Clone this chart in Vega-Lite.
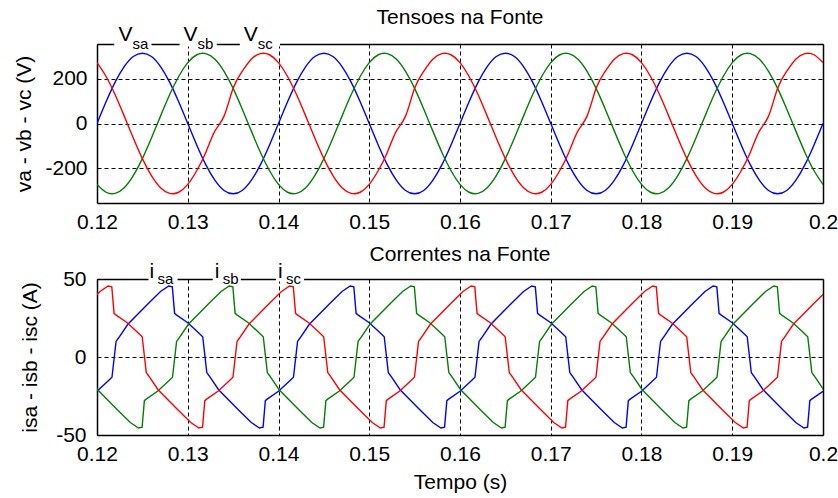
{
  "$schema": "https://vega.github.io/schema/vega-lite/v6.json",
  "padding": {"left": 13, "top": 6, "right": 0, "bottom": 1},
  "background": "white",
  "spacing": 12,
  "config": {
    "font": "Liberation Sans",
    "view": {"stroke": null},
    "axis": {
      "labelFont": "Liberation Sans", "labelFontSize": 21, "labelColor": "black",
      "titleFont": "Liberation Sans", "titleFontSize": 21, "titleFontWeight": "normal", "titleColor": "black",
      "domainColor": "black", "domainWidth": 1.5, "ticks": false,
      "gridColor": "black", "gridDash": [4, 3], "gridOpacity": 1, "gridWidth": 1
    },
    "title": {"font": "Liberation Sans", "fontSize": 21, "fontWeight": "normal", "color": "black"}
  },
  "datasets": {
    "volt": [
      {"t":0.120,"va":0,"vb":-272,"vc":272},{"t":0.121,"va":97,"vb":-307,"vc":210},{"t":0.122,"va":185,"vb":-312,"vc":128},{"t":0.123,"va":254,"vb":-287,"vc":33},{"t":0.124,"va":299,"vb":-233,"vc":-65},{"t":0.125,"va":314,"vb":-157,"vc":-157},{"t":0.126,"va":299,"vb":-65,"vc":-233},{"t":0.127,"va":254,"vb":33,"vc":-287},{"t":0.128,"va":185,"vb":128,"vc":-312},{"t":0.129,"va":97,"vb":210,"vc":-307},
      {"t":0.130,"va":0,"vb":272,"vc":-272},{"t":0.131,"va":-97,"vb":307,"vc":-210},{"t":0.132,"va":-185,"vb":312,"vc":-128},{"t":0.133,"va":-254,"vb":287,"vc":-33},{"t":0.134,"va":-299,"vb":233,"vc":33},{"t":0.135,"va":-314,"vb":157,"vc":157},{"t":0.136,"va":-299,"vb":65,"vc":233},{"t":0.137,"va":-254,"vb":-33,"vc":287},{"t":0.138,"va":-185,"vb":-128,"vc":312},{"t":0.139,"va":-97,"vb":-210,"vc":307},
      {"t":0.140,"va":0,"vb":-272,"vc":272},{"t":0.141,"va":97,"vb":-307,"vc":210},{"t":0.142,"va":185,"vb":-312,"vc":128},{"t":0.143,"va":254,"vb":-287,"vc":33},{"t":0.144,"va":299,"vb":-233,"vc":-65},{"t":0.145,"va":314,"vb":-157,"vc":-157},{"t":0.146,"va":299,"vb":-65,"vc":-233},{"t":0.147,"va":254,"vb":33,"vc":-287},{"t":0.148,"va":185,"vb":128,"vc":-312},{"t":0.149,"va":97,"vb":210,"vc":-307},
      {"t":0.150,"va":0,"vb":272,"vc":-272},{"t":0.151,"va":-97,"vb":307,"vc":-210},{"t":0.152,"va":-185,"vb":312,"vc":-128},{"t":0.153,"va":-254,"vb":287,"vc":-33},{"t":0.154,"va":-299,"vb":233,"vc":33},{"t":0.155,"va":-314,"vb":157,"vc":157},{"t":0.156,"va":-299,"vb":65,"vc":233},{"t":0.157,"va":-254,"vb":-33,"vc":287},{"t":0.158,"va":-185,"vb":-128,"vc":312},{"t":0.159,"va":-97,"vb":-210,"vc":307},
      {"t":0.160,"va":0,"vb":-272,"vc":272},{"t":0.161,"va":97,"vb":-307,"vc":210},{"t":0.162,"va":185,"vb":-312,"vc":128},{"t":0.163,"va":254,"vb":-287,"vc":33},{"t":0.164,"va":299,"vb":-233,"vc":-65},{"t":0.165,"va":314,"vb":-157,"vc":-157},{"t":0.166,"va":299,"vb":-65,"vc":-233},{"t":0.167,"va":254,"vb":33,"vc":-287},{"t":0.168,"va":185,"vb":128,"vc":-312},{"t":0.169,"va":97,"vb":210,"vc":-307},
      {"t":0.170,"va":0,"vb":272,"vc":-272},{"t":0.171,"va":-97,"vb":307,"vc":-210},{"t":0.172,"va":-185,"vb":312,"vc":-128},{"t":0.173,"va":-254,"vb":287,"vc":-33},{"t":0.174,"va":-299,"vb":233,"vc":33},{"t":0.175,"va":-314,"vb":157,"vc":157},{"t":0.176,"va":-299,"vb":65,"vc":233},{"t":0.177,"va":-254,"vb":-33,"vc":287},{"t":0.178,"va":-185,"vb":-128,"vc":312},{"t":0.179,"va":-97,"vb":-210,"vc":307},
      {"t":0.180,"va":0,"vb":-272,"vc":272},{"t":0.181,"va":97,"vb":-307,"vc":210},{"t":0.182,"va":185,"vb":-312,"vc":128},{"t":0.183,"va":254,"vb":-287,"vc":33},{"t":0.184,"va":299,"vb":-233,"vc":-65},{"t":0.185,"va":314,"vb":-157,"vc":-157},{"t":0.186,"va":299,"vb":-65,"vc":-233},{"t":0.187,"va":254,"vb":33,"vc":-287},{"t":0.188,"va":185,"vb":128,"vc":-312},{"t":0.189,"va":97,"vb":210,"vc":-307},
      {"t":0.190,"va":0,"vb":272,"vc":-272},{"t":0.191,"va":-97,"vb":307,"vc":-210},{"t":0.192,"va":-185,"vb":312,"vc":-128},{"t":0.193,"va":-254,"vb":287,"vc":-33},{"t":0.194,"va":-299,"vb":233,"vc":33},{"t":0.195,"va":-314,"vb":157,"vc":157},{"t":0.196,"va":-299,"vb":65,"vc":233},{"t":0.197,"va":-254,"vb":-33,"vc":287},{"t":0.198,"va":-185,"vb":-128,"vc":312},{"t":0.199,"va":-97,"vb":-210,"vc":307},
      {"t":0.200,"va":0,"vb":-272,"vc":272}
    ],
    "curr": [
      {"s":"isa","t":0.12,"v":-22},{"s":"isa","t":0.1211,"v":-16},{"s":"isa","t":0.12165,"v":-13},{"s":"isa","t":0.1221,"v":10},{"s":"isa","t":0.12235,"v":12},{"s":"isa","t":0.1234,"v":21},{"s":"isa","t":0.1256,"v":34},{"s":"isa","t":0.127,"v":42},{"s":"isa","t":0.1279,"v":45.5},{"s":"isa","t":0.1283,"v":45},{"s":"isa","t":0.12855,"v":28},{"s":"isa","t":0.12875,"v":27},
      {"s":"isa","t":0.13,"v":22},{"s":"isa","t":0.1311,"v":16},{"s":"isa","t":0.13165,"v":13},{"s":"isa","t":0.1321,"v":-10},{"s":"isa","t":0.13235,"v":-12},{"s":"isa","t":0.1334,"v":-21},{"s":"isa","t":0.1356,"v":-34},{"s":"isa","t":0.137,"v":-42},{"s":"isa","t":0.1379,"v":-45.5},{"s":"isa","t":0.1383,"v":-45},{"s":"isa","t":0.13855,"v":-28},{"s":"isa","t":0.13875,"v":-27},
      {"s":"isa","t":0.14,"v":-22},{"s":"isa","t":0.1411,"v":-16},{"s":"isa","t":0.14165,"v":-13},{"s":"isa","t":0.1421,"v":10},{"s":"isa","t":0.14235,"v":12},{"s":"isa","t":0.1434,"v":21},{"s":"isa","t":0.1456,"v":34},{"s":"isa","t":0.147,"v":42},{"s":"isa","t":0.1479,"v":45.5},{"s":"isa","t":0.1483,"v":45},{"s":"isa","t":0.14855,"v":28},{"s":"isa","t":0.14875,"v":27},
      {"s":"isa","t":0.15,"v":22},{"s":"isa","t":0.1511,"v":16},{"s":"isa","t":0.15165,"v":13},{"s":"isa","t":0.1521,"v":-10},{"s":"isa","t":0.15235,"v":-12},{"s":"isa","t":0.1534,"v":-21},{"s":"isa","t":0.1556,"v":-34},{"s":"isa","t":0.157,"v":-42},{"s":"isa","t":0.1579,"v":-45.5},{"s":"isa","t":0.1583,"v":-45},{"s":"isa","t":0.15855,"v":-28},{"s":"isa","t":0.15875,"v":-27},
      {"s":"isa","t":0.16,"v":-22},{"s":"isa","t":0.1611,"v":-16},{"s":"isa","t":0.16165,"v":-13},{"s":"isa","t":0.1621,"v":10},{"s":"isa","t":0.16235,"v":12},{"s":"isa","t":0.1634,"v":21},{"s":"isa","t":0.1656,"v":34},{"s":"isa","t":0.167,"v":42},{"s":"isa","t":0.1679,"v":45.5},{"s":"isa","t":0.1683,"v":45},{"s":"isa","t":0.16855,"v":28},{"s":"isa","t":0.16875,"v":27},
      {"s":"isa","t":0.17,"v":22},{"s":"isa","t":0.1711,"v":16},{"s":"isa","t":0.17165,"v":13},{"s":"isa","t":0.1721,"v":-10},{"s":"isa","t":0.17235,"v":-12},{"s":"isa","t":0.1734,"v":-21},{"s":"isa","t":0.1756,"v":-34},{"s":"isa","t":0.177,"v":-42},{"s":"isa","t":0.1779,"v":-45.5},{"s":"isa","t":0.1783,"v":-45},{"s":"isa","t":0.17855,"v":-28},{"s":"isa","t":0.17875,"v":-27},
      {"s":"isa","t":0.18,"v":-22},{"s":"isa","t":0.1811,"v":-16},{"s":"isa","t":0.18165,"v":-13},{"s":"isa","t":0.1821,"v":10},{"s":"isa","t":0.18235,"v":12},{"s":"isa","t":0.1834,"v":21},{"s":"isa","t":0.1856,"v":34},{"s":"isa","t":0.187,"v":42},{"s":"isa","t":0.1879,"v":45.5},{"s":"isa","t":0.1883,"v":45},{"s":"isa","t":0.18855,"v":28},{"s":"isa","t":0.18875,"v":27},
      {"s":"isa","t":0.19,"v":22},{"s":"isa","t":0.1911,"v":16},{"s":"isa","t":0.19165,"v":13},{"s":"isa","t":0.1921,"v":-10},{"s":"isa","t":0.19235,"v":-12},{"s":"isa","t":0.1934,"v":-21},{"s":"isa","t":0.1956,"v":-34},{"s":"isa","t":0.197,"v":-42},{"s":"isa","t":0.1979,"v":-45.5},{"s":"isa","t":0.1983,"v":-45},{"s":"isa","t":0.19855,"v":-28},{"s":"isa","t":0.19875,"v":-27},
      {"s":"isa","t":0.2,"v":-22},

      {"s":"isb","t":0.11877,"v":-10},{"s":"isb","t":0.11902,"v":-12},{"s":"isb","t":0.12007,"v":-21},{"s":"isb","t":0.12227,"v":-34},{"s":"isb","t":0.12367,"v":-42},{"s":"isb","t":0.12457,"v":-45.5},{"s":"isb","t":0.12497,"v":-45},{"s":"isb","t":0.12522,"v":-28},{"s":"isb","t":0.12542,"v":-27},
      {"s":"isb","t":0.12667,"v":-22},{"s":"isb","t":0.12777,"v":-16},{"s":"isb","t":0.12832,"v":-13},{"s":"isb","t":0.12877,"v":10},{"s":"isb","t":0.12902,"v":12},{"s":"isb","t":0.13007,"v":21},{"s":"isb","t":0.13227,"v":34},{"s":"isb","t":0.13367,"v":42},{"s":"isb","t":0.13457,"v":45.5},{"s":"isb","t":0.13497,"v":45},{"s":"isb","t":0.13522,"v":28},{"s":"isb","t":0.13542,"v":27},
      {"s":"isb","t":0.13667,"v":22},{"s":"isb","t":0.13777,"v":16},{"s":"isb","t":0.13832,"v":13},{"s":"isb","t":0.13877,"v":-10},{"s":"isb","t":0.13902,"v":-12},{"s":"isb","t":0.14007,"v":-21},{"s":"isb","t":0.14227,"v":-34},{"s":"isb","t":0.14367,"v":-42},{"s":"isb","t":0.14457,"v":-45.5},{"s":"isb","t":0.14497,"v":-45},{"s":"isb","t":0.14522,"v":-28},{"s":"isb","t":0.14542,"v":-27},
      {"s":"isb","t":0.14667,"v":-22},{"s":"isb","t":0.14777,"v":-16},{"s":"isb","t":0.14832,"v":-13},{"s":"isb","t":0.14877,"v":10},{"s":"isb","t":0.14902,"v":12},{"s":"isb","t":0.15007,"v":21},{"s":"isb","t":0.15227,"v":34},{"s":"isb","t":0.15367,"v":42},{"s":"isb","t":0.15457,"v":45.5},{"s":"isb","t":0.15497,"v":45},{"s":"isb","t":0.15522,"v":28},{"s":"isb","t":0.15542,"v":27},
      {"s":"isb","t":0.15667,"v":22},{"s":"isb","t":0.15777,"v":16},{"s":"isb","t":0.15832,"v":13},{"s":"isb","t":0.15877,"v":-10},{"s":"isb","t":0.15902,"v":-12},{"s":"isb","t":0.16007,"v":-21},{"s":"isb","t":0.16227,"v":-34},{"s":"isb","t":0.16367,"v":-42},{"s":"isb","t":0.16457,"v":-45.5},{"s":"isb","t":0.16497,"v":-45},{"s":"isb","t":0.16522,"v":-28},{"s":"isb","t":0.16542,"v":-27},
      {"s":"isb","t":0.16667,"v":-22},{"s":"isb","t":0.16777,"v":-16},{"s":"isb","t":0.16832,"v":-13},{"s":"isb","t":0.16877,"v":10},{"s":"isb","t":0.16902,"v":12},{"s":"isb","t":0.17007,"v":21},{"s":"isb","t":0.17227,"v":34},{"s":"isb","t":0.17367,"v":42},{"s":"isb","t":0.17457,"v":45.5},{"s":"isb","t":0.17497,"v":45},{"s":"isb","t":0.17522,"v":28},{"s":"isb","t":0.17542,"v":27},
      {"s":"isb","t":0.17667,"v":22},{"s":"isb","t":0.17777,"v":16},{"s":"isb","t":0.17832,"v":13},{"s":"isb","t":0.17877,"v":-10},{"s":"isb","t":0.17902,"v":-12},{"s":"isb","t":0.18007,"v":-21},{"s":"isb","t":0.18227,"v":-34},{"s":"isb","t":0.18367,"v":-42},{"s":"isb","t":0.18457,"v":-45.5},{"s":"isb","t":0.18497,"v":-45},{"s":"isb","t":0.18522,"v":-28},{"s":"isb","t":0.18542,"v":-27},
      {"s":"isb","t":0.18667,"v":-22},{"s":"isb","t":0.18777,"v":-16},{"s":"isb","t":0.18832,"v":-13},{"s":"isb","t":0.18877,"v":10},{"s":"isb","t":0.18902,"v":12},{"s":"isb","t":0.19007,"v":21},{"s":"isb","t":0.19227,"v":34},{"s":"isb","t":0.19367,"v":42},{"s":"isb","t":0.19457,"v":45.5},{"s":"isb","t":0.19497,"v":45},{"s":"isb","t":0.19522,"v":28},{"s":"isb","t":0.19542,"v":27},
      {"s":"isb","t":0.19667,"v":22},{"s":"isb","t":0.19777,"v":16},{"s":"isb","t":0.19832,"v":13},{"s":"isb","t":0.19877,"v":-10},{"s":"isb","t":0.19902,"v":-12},{"s":"isb","t":0.20007,"v":-21},

      {"s":"isc","t":0.11893,"v":34},{"s":"isc","t":0.12033,"v":42},{"s":"isc","t":0.12123,"v":45.5},{"s":"isc","t":0.12163,"v":45},{"s":"isc","t":0.12188,"v":28},{"s":"isc","t":0.12208,"v":27},
      {"s":"isc","t":0.12333,"v":22},{"s":"isc","t":0.12443,"v":16},{"s":"isc","t":0.12498,"v":13},{"s":"isc","t":0.12543,"v":-10},{"s":"isc","t":0.12568,"v":-12},{"s":"isc","t":0.12673,"v":-21},{"s":"isc","t":0.12893,"v":-34},{"s":"isc","t":0.13033,"v":-42},{"s":"isc","t":0.13123,"v":-45.5},{"s":"isc","t":0.13163,"v":-45},{"s":"isc","t":0.13188,"v":-28},{"s":"isc","t":0.13208,"v":-27},
      {"s":"isc","t":0.13333,"v":-22},{"s":"isc","t":0.13443,"v":-16},{"s":"isc","t":0.13498,"v":-13},{"s":"isc","t":0.13543,"v":10},{"s":"isc","t":0.13568,"v":12},{"s":"isc","t":0.13673,"v":21},{"s":"isc","t":0.13893,"v":34},{"s":"isc","t":0.14033,"v":42},{"s":"isc","t":0.14123,"v":45.5},{"s":"isc","t":0.14163,"v":45},{"s":"isc","t":0.14188,"v":28},{"s":"isc","t":0.14208,"v":27},
      {"s":"isc","t":0.14333,"v":22},{"s":"isc","t":0.14443,"v":16},{"s":"isc","t":0.14498,"v":13},{"s":"isc","t":0.14543,"v":-10},{"s":"isc","t":0.14568,"v":-12},{"s":"isc","t":0.14673,"v":-21},{"s":"isc","t":0.14893,"v":-34},{"s":"isc","t":0.15033,"v":-42},{"s":"isc","t":0.15123,"v":-45.5},{"s":"isc","t":0.15163,"v":-45},{"s":"isc","t":0.15188,"v":-28},{"s":"isc","t":0.15208,"v":-27},
      {"s":"isc","t":0.15333,"v":-22},{"s":"isc","t":0.15443,"v":-16},{"s":"isc","t":0.15498,"v":-13},{"s":"isc","t":0.15543,"v":10},{"s":"isc","t":0.15568,"v":12},{"s":"isc","t":0.15673,"v":21},{"s":"isc","t":0.15893,"v":34},{"s":"isc","t":0.16033,"v":42},{"s":"isc","t":0.16123,"v":45.5},{"s":"isc","t":0.16163,"v":45},{"s":"isc","t":0.16188,"v":28},{"s":"isc","t":0.16208,"v":27},
      {"s":"isc","t":0.16333,"v":22},{"s":"isc","t":0.16443,"v":16},{"s":"isc","t":0.16498,"v":13},{"s":"isc","t":0.16543,"v":-10},{"s":"isc","t":0.16568,"v":-12},{"s":"isc","t":0.16673,"v":-21},{"s":"isc","t":0.16893,"v":-34},{"s":"isc","t":0.17033,"v":-42},{"s":"isc","t":0.17123,"v":-45.5},{"s":"isc","t":0.17163,"v":-45},{"s":"isc","t":0.17188,"v":-28},{"s":"isc","t":0.17208,"v":-27},
      {"s":"isc","t":0.17333,"v":-22},{"s":"isc","t":0.17443,"v":-16},{"s":"isc","t":0.17498,"v":-13},{"s":"isc","t":0.17543,"v":10},{"s":"isc","t":0.17568,"v":12},{"s":"isc","t":0.17673,"v":21},{"s":"isc","t":0.17893,"v":34},{"s":"isc","t":0.18033,"v":42},{"s":"isc","t":0.18123,"v":45.5},{"s":"isc","t":0.18163,"v":45},{"s":"isc","t":0.18188,"v":28},{"s":"isc","t":0.18208,"v":27},
      {"s":"isc","t":0.18333,"v":22},{"s":"isc","t":0.18443,"v":16},{"s":"isc","t":0.18498,"v":13},{"s":"isc","t":0.18543,"v":-10},{"s":"isc","t":0.18568,"v":-12},{"s":"isc","t":0.18673,"v":-21},{"s":"isc","t":0.18893,"v":-34},{"s":"isc","t":0.19033,"v":-42},{"s":"isc","t":0.19123,"v":-45.5},{"s":"isc","t":0.19163,"v":-45},{"s":"isc","t":0.19188,"v":-28},{"s":"isc","t":0.19208,"v":-27},
      {"s":"isc","t":0.19333,"v":-22},{"s":"isc","t":0.19443,"v":-16},{"s":"isc","t":0.19498,"v":-13},{"s":"isc","t":0.19543,"v":10},{"s":"isc","t":0.19568,"v":12},{"s":"isc","t":0.19673,"v":21},{"s":"isc","t":0.19893,"v":34},{"s":"isc","t":0.20033,"v":42}
    ],
    "vlab": [
      {"t":0.12236,"t1":0.1219,"t2":0.1260,"m":"V","sub":"sa"},
      {"t":0.12954,"t1":0.1291,"t2":0.1332,"m":"V","sub":"sb"},
      {"t":0.13618,"t1":0.13574,"t2":0.14016,"m":"V","sub":"sc"}
    ],
    "ilab": [
      {"t":0.12578,"t1":0.12567,"t2":0.12888,"m":"i","sub":"sa"},
      {"t":0.13297,"t1":0.13275,"t2":0.13585,"m":"i","sub":"sb"},
      {"t":0.13994,"t1":0.13972,"t2":0.14282,"m":"i","sub":"sc"}
    ]
  },
  "vconcat": [
    {
      "title": {"text": "Tensoes na Fonte", "offset": -3.5},
      "width": 726,
      "height": 159,
      "resolve": {"axis": {"x": "independent", "y": "independent"}},
      "layer": [
        {
          "data": {"name": "volt"},
          "transform": [{"fold": ["va", "vb", "vc"], "as": ["fase", "tensao"]}],
          "mark": {"type": "line", "interpolate": "natural", "strokeWidth": 1.4, "clip": true},
          "encoding": {
            "x": {"field": "t", "type": "quantitative",
                  "scale": {"domain": [0.12, 0.2], "nice": false, "zero": false},
                  "axis": {"values": [0.12,0.13,0.14,0.15,0.16,0.17,0.18,0.19,0.2], "format": ".2~f", "title": null, "labelPadding": 8, "labelFlush": false, "labelOverlap": false}},
            "y": {"field": "tensao", "type": "quantitative",
                  "scale": {"domain": [-355, 355], "nice": false, "zero": false},
                  "axis": {"values": [-200, 0, 200], "labelExpr": "'' + datum.value", "title": "va - vb - vc (V)", "labelPadding": 10, "titlePadding": 10}},
            "color": {"field": "fase", "type": "nominal",
                      "scale": {"domain": ["va", "vb", "vc"], "range": ["#0000ff", "#008000", "#ff0000"]},
                      "legend": null}
          }
        },
        {
          "data": {"name": "vlab"},
          "layer": [
            {
              "mark": {"type": "rule", "color": "white", "strokeWidth": 5},
              "encoding": {
                "x": {"field": "t1", "type": "quantitative", "axis": {"orient": "top", "labels": false, "grid": false, "title": null, "domain": true}},
                "x2": {"field": "t2"},
                "y": {"datum": 355, "type": "quantitative", "axis": {"orient": "right", "labels": false, "grid": false, "title": null, "domain": true}}
              }
            },
            {
              "mark": {"type": "text", "align": "left", "baseline": "alphabetic", "fontSize": 21, "dy": -3, "color": "black"},
              "encoding": {
                "x": {"field": "t", "type": "quantitative", "axis": {"orient": "top", "labels": false, "grid": false, "title": null, "domain": true}},
                "y": {"datum": 355, "type": "quantitative", "axis": {"orient": "right", "labels": false, "grid": false, "title": null, "domain": true}},
                "text": {"field": "m"}
              }
            },
            {
              "mark": {"type": "text", "align": "left", "baseline": "alphabetic", "fontSize": 15, "dx": 14, "dy": 5, "color": "black"},
              "encoding": {
                "x": {"field": "t", "type": "quantitative", "axis": {"orient": "top", "labels": false, "grid": false, "title": null, "domain": true}},
                "y": {"datum": 355, "type": "quantitative", "axis": {"orient": "right", "labels": false, "grid": false, "title": null, "domain": true}},
                "text": {"field": "sub"}
              }
            }
          ]
        }
      ]
    },
    {
      "title": {"text": "Correntes na Fonte", "offset": -4},
      "width": 726,
      "height": 156,
      "resolve": {"axis": {"x": "independent", "y": "independent"}},
      "layer": [
        {
          "data": {"name": "curr"},
          "mark": {"type": "line", "strokeWidth": 1.4, "clip": true},
          "encoding": {
            "x": {"field": "t", "type": "quantitative",
                  "scale": {"domain": [0.12, 0.2], "nice": false, "zero": false},
                  "axis": {"values": [0.12,0.13,0.14,0.15,0.16,0.17,0.18,0.19,0.2], "format": ".2~f", "title": "Tempo (s)", "labelPadding": 8, "titlePadding": 7, "labelFlush": false, "labelOverlap": false}},
            "y": {"field": "v", "type": "quantitative",
                  "scale": {"domain": [-50, 50], "nice": false, "zero": false},
                  "axis": {"values": [-50, 0, 50], "labelExpr": "'' + datum.value", "title": "isa - isb - isc (A)", "labelPadding": 11, "titlePadding": 15}},
            "color": {"field": "s", "type": "nominal",
                      "scale": {"domain": ["isa", "isb", "isc"], "range": ["#0000ff", "#008000", "#ff0000"]},
                      "legend": null}
          }
        },
        {
          "data": {"name": "ilab"},
          "layer": [
            {
              "mark": {"type": "rule", "color": "white", "strokeWidth": 5},
              "encoding": {
                "x": {"field": "t1", "type": "quantitative", "axis": {"orient": "top", "labels": false, "grid": false, "title": null, "domain": true}},
                "x2": {"field": "t2"},
                "y": {"datum": 50, "type": "quantitative", "axis": {"orient": "right", "labels": false, "grid": false, "title": null, "domain": true}}
              }
            },
            {
              "mark": {"type": "text", "align": "left", "baseline": "alphabetic", "fontSize": 21, "dy": -1, "color": "black"},
              "encoding": {
                "x": {"field": "t", "type": "quantitative", "axis": {"orient": "top", "labels": false, "grid": false, "title": null, "domain": true}},
                "y": {"datum": 50, "type": "quantitative", "axis": {"orient": "right", "labels": false, "grid": false, "title": null, "domain": true}},
                "text": {"field": "m"}
              }
            },
            {
              "mark": {"type": "text", "align": "left", "baseline": "alphabetic", "fontSize": 15, "dx": 8, "dy": 5, "color": "black"},
              "encoding": {
                "x": {"field": "t", "type": "quantitative", "axis": {"orient": "top", "labels": false, "grid": false, "title": null, "domain": true}},
                "y": {"datum": 50, "type": "quantitative", "axis": {"orient": "right", "labels": false, "grid": false, "title": null, "domain": true}},
                "text": {"field": "sub"}
              }
            }
          ]
        }
      ]
    }
  ]
}
